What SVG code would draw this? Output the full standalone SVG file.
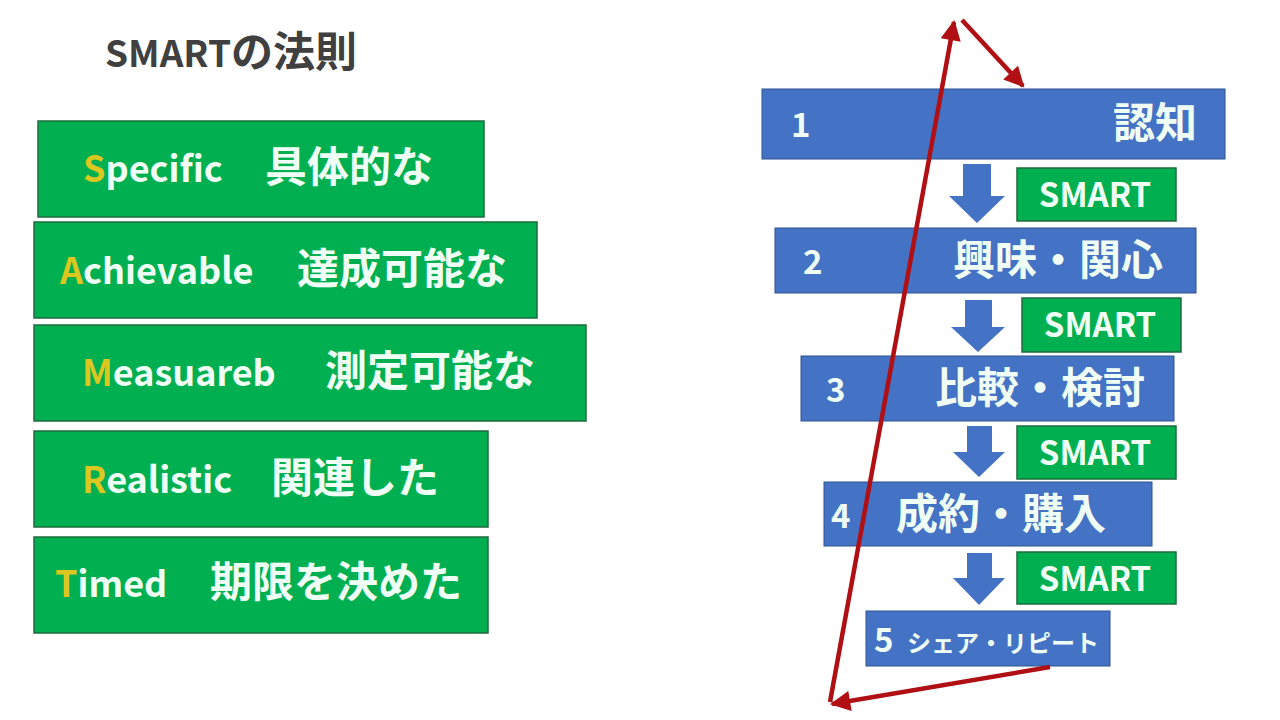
<svg xmlns="http://www.w3.org/2000/svg" width="1280" height="720" viewBox="0 0 1280 720">
<defs>
<style>
.t{font-family:"Noto Sans CJK JP","Noto Sans",sans-serif;font-weight:bold}
.g{fill:#00b050;stroke:#1e6b3c;stroke-width:1.5}
.b{fill:#4472c4;stroke:#2f528f;stroke-width:1}
.w{fill:#f0fff5}
.y{fill:#dcc620}
.j{font-size:42px}
.ar{fill:#4472c4}
.red{stroke:#b00f14;stroke-width:4.5;fill:none}
</style>
<marker id="ah" viewBox="0 0 10 10" refX="9" refY="5" markerWidth="5" markerHeight="4.5" orient="auto" markerUnits="strokeWidth">
<path d="M0,0 L10,5 L0,10 z" fill="#b00f14"/>
</marker>
</defs>
<rect width="1280" height="720" fill="#ffffff"/>
<text id="title" class="t" x="105" y="67" font-size="37" fill="#404040">SMART<tspan class="j">の法則</tspan></text>

<g id="specific"><rect class="g" x="38" y="121" width="446" height="96"/>
<text class="t w" x="83" y="182" font-size="36"><tspan class="y">S</tspan>pecific<tspan x="265" class="j">具体的な</tspan></text></g>
<g id="achievable"><rect class="g" x="34" y="222" width="503" height="96"/>
<text class="t w" x="60" y="284" font-size="36"><tspan class="y">A</tspan>chievable<tspan x="297" class="j">達成可能な</tspan></text></g>
<g id="measureb"><rect class="g" x="34" y="325" width="552" height="96"/>
<text class="t w" x="82" y="386" font-size="36"><tspan class="y">M</tspan>easuareb<tspan x="325" class="j">測定可能な</tspan></text></g>
<g id="realistic"><rect class="g" x="34" y="431" width="454" height="96"/>
<text class="t w" x="82" y="493" font-size="36"><tspan class="y">R</tspan>ealistic<tspan x="271" class="j">関連した</tspan></text></g>
<g id="timed"><rect class="g" x="34" y="537" width="454" height="96"/>
<text class="t w" x="55" y="597" font-size="36"><tspan class="y">T</tspan>imed<tspan x="210" class="j">期限を決めた</tspan></text></g>

<g id="step1"><rect class="b" x="762" y="89" width="463" height="70"/>
<text class="t w" x="791" y="137" font-size="33">1</text>
<text class="t w j" x="1113" y="138">認知</text></g>
<g id="step2"><rect class="b" x="775" y="228" width="421" height="65"/>
<text class="t w" x="803" y="274" font-size="33">2</text>
<text class="t w j" x="953" y="275">興味・関心</text></g>
<g id="step3"><rect class="b" x="801" y="356" width="373" height="65"/>
<text class="t w" x="826" y="402" font-size="33">3</text>
<text class="t w j" x="935" y="403">比較・検討</text></g>
<g id="step4"><rect class="b" x="824" y="482" width="328" height="64"/>
<text class="t w" x="831" y="528" font-size="33">4</text>
<text class="t w j" x="896" y="529">成約・購入</text></g>
<g id="step5"><rect class="b" x="866" y="611" width="244" height="55"/>
<text class="t w" x="874" y="652" font-size="33">5</text>
<text class="t w" x="907" y="652" font-size="24">シェア・リピート</text></g>

<g id="smart1"><rect class="g" x="1017" y="168" width="159" height="53"/>
<text class="t w" x="1095" y="207" font-size="33" text-anchor="middle">SMART</text></g>
<g id="smart2"><rect class="g" x="1022" y="298" width="159" height="54"/>
<text class="t w" x="1100" y="337" font-size="33" text-anchor="middle">SMART</text></g>
<g id="smart3"><rect class="g" x="1017" y="426" width="159" height="53"/>
<text class="t w" x="1095" y="465" font-size="33" text-anchor="middle">SMART</text></g>
<g id="smart4"><rect class="g" x="1017" y="552" width="159" height="52"/>
<text class="t w" x="1095" y="591" font-size="33" text-anchor="middle">SMART</text></g>

<g id="connectors">
<path class="ar" d="M963,164 H991 V196 H1005 L977,223 L949,196 H963 Z"/>
<path class="ar" d="M965,300 H992 V327 H1005 L978,352 L951,327 H965 Z"/>
<path class="ar" d="M967,426 H992 V452 H1005 L979,477 L953,452 H967 Z"/>
<path class="ar" d="M967,553 H992 V578 H1005 L979,605 L953,578 H967 Z"/>
<line class="red" x1="1050" y1="667" x2="832" y2="704" marker-end="url(#ah)"/>
<line class="red" x1="830" y1="702" x2="954" y2="22" marker-end="url(#ah)"/>
<line class="red" x1="962" y1="20" x2="1023" y2="86" marker-end="url(#ah)"/>
</g>
</svg>
